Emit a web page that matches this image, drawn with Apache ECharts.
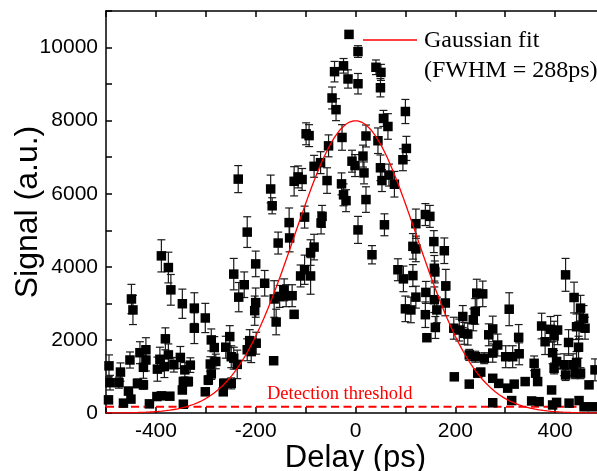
<!DOCTYPE html>
<html>
<head>
<meta charset="utf-8">
<script src="https://cdn.jsdelivr.net/npm/echarts@6/dist/echarts.min.js"></script>
<style>
  html, body { margin: 0; padding: 0; background: #fff; }
  #chart { width: 597px; height: 471px; }
</style>
</head>
<body>
<div id="chart"></div>
<script>
// Measured cross-correlation signal versus delay, with one-sigma error bars.
const delay = [
  -495, -494, -492, -474, -471, -465, -455, -452, -450, -449, -446, -437, -432, -425, -425, -420, -420, -413,
  -398, -397, -392, -389, -389, -383, -381, -375, -375, -372, -370, -364, -351, -347, -347, -345, -345, -342,
  -335, -331, -323, -323, -301, -301, -295, -291, -289, -289, -283, -280, -265, -264, -260, -252, -249, -249,
  -244, -244, -237, -235, -234, -223, -217, -217, -212, -209, -202, -200, -200, -199, -182, -170, -167, -164,
  -163, -159, -155, -152, -143, -139, -133, -132, -127, -123, -123, -115, -110, -107, -102, -102, -99, -93,
  -90, -90, -83, -83, -70, -69, -67, -57, -54, -47, -42, -39, -28, -27, -24, -24, -19, -15, -13, -7, -1,
  5, 5, 5, 15, 17, 21, 21, 33, 41, 45, 50, 50, 51, 53, 56, 58, 65, 67, 78, 85, 95, 96, 100, 100, 102,
  111, 115, 115, 121, 121, 121, 140, 140, 141, 143, 149, 157, 158, 158, 159, 160, 163, 178, 180, 181,
  197, 198, 208, 215, 218, 225, 228, 228, 236, 240, 240, 243, 245, 251, 255, 258, 267, 275, 275, 275, 275,
  285, 287, 301, 305, 308, 313, 315, 318, 327, 328, 340, 353, 358, 361, 365, 368, 373, 380, 391, 393, 395,
  395, 398, 398, 403, 403, 405, 418, 421, 421, 427, 428, 436, 438, 440, 443, 443, 447, 448, 448, 451, 451,
  457, 458, 460, 468, 475, 480
];
const signal = [
  360, 1290, 830, 830, 1120, 270, 600, 1450, 380, 3120, 2820, 810, 1650, 770, 1250, 1730, 1450, 250,
  450, 1200, 1470, 470, 4300, 1270, 2030, 1590, 3980, 460, 3370, 1320, 1520, 630, 2990, 860, 240, 1180,
  860, 1310, 2870, 2320, 2600, 580, 900, 1340, 2000, 1070, 1790, 1410, 580, 810, 1800, 2090, 810, 1540,
  1500, 3800, 1330, 6400, 3170, 3510, 4950, 1730, 1980, 1680, 2800, 4080, 3020, 1910, 3550, 6130, 5670, 1430,
  3120, 2490, 4650, 3190, 3370, 3210, 5210, 4790, 3210, 6340, 2700, 6460, 3750, 6390, 5360, 3920, 7640, 7590,
  4390, 3750, 4540, 6750, 6850, 5200, 5380, 6360, 7310, 8620, 9340, 8300, 6270, 7540, 9500, 5970, 5810, 9140, 10360, 6890, 6770,
  9890, 9010, 5010, 7030, 6570, 7580, 5840, 4330, 9460, 7450, 8900, 6710, 9320, 6360, 8060, 5150, 7840, 6510, 6260, 3920, 6930, 3670, 8250, 2850, 7240,
  2820, 4560, 3760, 5180, 4490, 3170, 5430, 2690, 3300, 2060, 5380, 4690, 3960, 3100, 3860, 2340, 2820, 4440, 3010, 3480,
  2320, 990, 2270, 2640, 2180, 2160, 1590, 790, 2550, 2780, 1540, 3280, 1090, 1120, 3260, 1500, 2140, 2300, 1640, 950, 280,
  1860, 810, 1540, 680, 2840, 340, 1540, 790, 2070, 1620, 860, 330, 1360, 1090, 860, 310, 2380, 1950, 2290, 630, 1650,
  220, 2110, 1220, 1410, 290, 2270, 1320, 3780, 1040, 1930, 270, 1320, 3160, 1090, 1380, 2360, 1800, 2380, 340, 2870, 1090,
  2590, 170, 2320, 770, 170, 1180
];
const signalError = [
  80, 300, 200, 150, 250, 60, 100, 220, 60, 400, 400, 120, 300, 120, 300, 330, 300, 60,
  60, 330, 330, 60, 440, 300, 300, 300, 420, 60, 420, 200, 300, 100, 400, 120, 60, 200,
  120, 200, 420, 420, 400, 100, 120, 200, 300, 150, 300, 200, 100, 120, 300, 300, 150, 300,
  300, 430, 390, 370, 400, 350, 420, 300, 300, 300, 400, 350, 400, 300, 350, 380, 220, 50,
  500, 350, 300, 300, 300, 300, 400, 380, 300, 400, 100, 300, 300, 300, 300, 400, 300, 300,
  350, 500, 350, 300, 300, 300, 300, 350, 300, 300, 280, 300, 300, 350, 200, 300, 300, 250, 80, 300, 300,
  160, 280, 370, 300, 300, 300, 350, 250, 200, 350, 250, 350, 220, 300, 220, 300, 350, 300, 350, 300, 300, 350, 330, 350, 330,
  350, 350, 300, 400, 350, 300, 300, 350, 300, 60, 300, 300, 350, 350, 300, 300, 350, 350, 350, 450,
  300, 60, 300, 300, 300, 300, 150, 60, 300, 350, 150, 380, 100, 100, 350, 150, 300, 350, 250, 80, 60,
  300, 80, 300, 80, 450, 60, 300, 80, 350, 300, 80, 60, 200, 100, 80, 60, 350, 350, 350, 80, 300,
  60, 400, 150, 200, 60, 400, 300, 450, 150, 350, 60, 300, 420, 150, 300, 350, 300, 350, 60, 350, 150,
  350, 60, 300, 80, 60, 300
];

// Gaussian fit parameters and the detection floor.
const fitAmplitude = 8000;
const fitCenter = 0;
const fitFWHM = 288;
const thresholdLevel = 170;

const xTickLabels = [-400, -200, 0, 200, 400];
const yTickLabels = [0, 2000, 4000, 6000, 8000, 10000];

const sans = '"Liberation Sans", Arial, sans-serif';
const serif = '"Liberation Serif", "Times New Roman", serif';

const points = delay.map((d, i) => [d, signal[i]]);
const bars = delay.map((d, i) => [d, signal[i] - signalError[i], signal[i] + signalError[i]]);

// Fitted Gaussian sampled over the delay range.
const sigma = fitFWHM / (2 * Math.sqrt(2 * Math.log(2)));
const fitCurve = [];
for (let t = -500; t <= 500; t += 4) {
  fitCurve.push([t, fitAmplitude * Math.exp(-((t - fitCenter) ** 2) / (2 * sigma * sigma))]);
}

const axisLineStyle = { color: '#000', width: 1.5 };
const labelStyle = { fontFamily: sans, fontSize: 21, color: '#000' };

const chart = echarts.init(document.getElementById('chart'), null, { renderer: 'canvas' });
chart.setOption({
  animation: false,
  backgroundColor: '#fff',
  grid: { left: 106, right: -8, top: 11, bottom: 58, outerBoundsMode: 'none', containLabel: false },
  xAxis: [
    {
      type: 'value', min: -500, max: 500, interval: 100, position: 'bottom',
      name: 'Delay (ps)', nameLocation: 'middle', nameGap: 30, nameMoveOverlap: false,
      nameTextStyle: { fontFamily: sans, fontSize: 31, color: '#000' },
      axisLine: { onZero: false, lineStyle: axisLineStyle },
      axisTick: { inside: true, length: 6, lineStyle: axisLineStyle },
      axisLabel: {
        ...labelStyle, margin: 8,
        formatter: v => (xTickLabels.includes(v) ? String(v) : '')
      },
      splitLine: { show: false }
    },
    {
      type: 'value', min: -500, max: 500, interval: 100, position: 'top',
      axisLine: { onZero: false, lineStyle: axisLineStyle },
      axisTick: { inside: true, length: 6, lineStyle: axisLineStyle },
      axisLabel: { show: false },
      splitLine: { show: false }
    }
  ],
  yAxis: {
    type: 'value', min: 0, max: 11000, interval: 1000,
    name: 'Signal (a.u.)', nameLocation: 'middle', nameGap: 62, nameMoveOverlap: false,
    nameTextStyle: { fontFamily: sans, fontSize: 32, color: '#000' },
    axisLine: { show: true, onZero: false, lineStyle: axisLineStyle },
    axisTick: { show: true, inside: true, length: 6, lineStyle: axisLineStyle },
    axisLabel: {
      ...labelStyle, margin: 8,
      formatter: v => (yTickLabels.includes(v) ? String(v) : '')
    },
    splitLine: { show: false }
  },
  series: [
    {
      name: 'threshold', type: 'line', symbol: 'none', silent: true, z: 3,
      data: [[-500, thresholdLevel], [500, thresholdLevel]],
      lineStyle: { color: '#ff0000', width: 2, type: [8, 4.5] }
    },
    {
      name: 'error', type: 'custom', z: 4, silent: true,
      data: bars,
      encode: { x: 0, y: [1, 2] },
      renderItem: (params, api) => {
        const x = api.value(0);
        const lo = api.coord([x, api.value(1)]);
        const hi = api.coord([x, api.value(2)]);
        const hw = 4;
        const style = { stroke: '#1a1a1a', lineWidth: 1.2 };
        return {
          type: 'group',
          children: [
            { type: 'line', shape: { x1: lo[0], y1: lo[1], x2: hi[0], y2: hi[1] }, style },
            { type: 'line', shape: { x1: hi[0] - hw, y1: hi[1], x2: hi[0] + hw, y2: hi[1] }, style },
            { type: 'line', shape: { x1: lo[0] - hw, y1: lo[1], x2: lo[0] + hw, y2: lo[1] }, style }
          ]
        };
      }
    },
    {
      name: 'signal', type: 'scatter', z: 5,
      symbol: 'rect', symbolSize: 9.5,
      itemStyle: { color: '#000', opacity: 1 },
      data: points
    },
    {
      name: 'Gaussian fit', type: 'line', symbol: 'none', smooth: false, z: 6,
      data: fitCurve,
      lineStyle: { color: '#ff0000', width: 1.3 }
    }
  ],
  graphic: [
    { type: 'line', shape: { x1: 363, y1: 40, x2: 417, y2: 40 }, style: { stroke: '#ff0000', lineWidth: 1.3 } },
    { type: 'text', x: 424, y: 41, style: { text: 'Gaussian fit', font: '24px ' + serif, fill: '#000', verticalAlign: 'middle' } },
    { type: 'text', x: 424, y: 71, style: { text: '(FWHM = ' + fitFWHM + 'ps)', font: '24px ' + serif, fill: '#000', verticalAlign: 'middle' } },
    { type: 'text', x: 267, y: 394, style: { text: 'Detection threshold', font: '18.5px ' + serif, fill: '#ff0000', verticalAlign: 'middle' } }
  ]
});
</script>
</body>
</html>
